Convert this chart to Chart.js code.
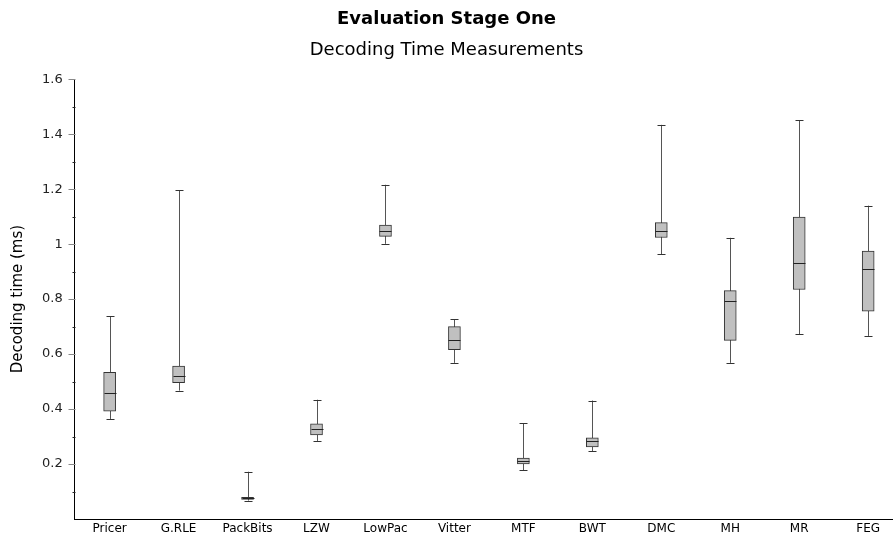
<!DOCTYPE html>
<html>
<head>
<meta charset="utf-8">
<script src="https://cdn.jsdelivr.net/npm/chart.js@4.4.0/dist/chart.umd.min.js"></script>
<style>
  html, body { margin: 0; padding: 0; background: #fff; overflow: hidden; }
  #wrap { width: 893px; height: 539px; }
</style>
</head>
<body>
<div id="wrap"><canvas id="chart"></canvas></div>
<script>
const categories = ["Pricer", "G.RLE", "PackBits", "LZW", "LowPac", "Vitter", "MTF", "BWT", "DMC", "MH", "MR", "FEG"];
const mins    = [0.364, 0.467, 0.067, 0.284, 1.001, 0.568, 0.177, 0.247, 0.964, 0.568, 0.673, 0.666];
const q1s     = [0.392, 0.496, 0.071, 0.306, 1.028, 0.616, 0.200, 0.262, 1.024, 0.650, 0.835, 0.756];
const medians = [0.459, 0.520, 0.075, 0.327, 1.049, 0.652, 0.212, 0.285, 1.046, 0.794, 0.932, 0.910];
const q3s     = [0.534, 0.556, 0.079, 0.346, 1.069, 0.700, 0.222, 0.295, 1.078, 0.831, 1.098, 0.975];
const maxs    = [0.738, 1.196, 0.172, 0.434, 1.216, 0.727, 0.348, 0.431, 1.434, 1.023, 1.451, 1.140];

const font = "'DejaVu Sans', sans-serif";

// whiskers under the boxes, caps, medians and y ticks on top
const boxParts = {
    id: "boxParts",
    beforeDatasetsDraw(chart) {
        const { ctx, scales: { x, y } } = chart;
        ctx.save();
        ctx.strokeStyle = "#555";
        ctx.lineWidth = 1;
        categories.forEach((c, i) => {
            const px = Math.round(x.getPixelForValue(i)) + 0.5;
            ctx.beginPath();
            ctx.moveTo(px, y.getPixelForValue(mins[i]));
            ctx.lineTo(px, y.getPixelForValue(maxs[i]));
            ctx.stroke();
        });
        ctx.restore();
    },
    afterDatasetsDraw(chart) {
        const { ctx, scales: { x, y } } = chart;
        ctx.save();
        ctx.lineWidth = 1;
        categories.forEach((c, i) => {
            const px = Math.round(x.getPixelForValue(i)) + 0.5;
            ctx.strokeStyle = "#333";
            for (const v of [mins[i], maxs[i]]) {
                const py = Math.round(y.getPixelForValue(v)) + 0.5;
                ctx.beginPath();
                ctx.moveTo(px - 4, py);
                ctx.lineTo(px + 4, py);
                ctx.stroke();
            }
            const my = Math.round(y.getPixelForValue(medians[i])) + 0.5;
            ctx.strokeStyle = "#222";
            ctx.beginPath();
            ctx.moveTo(px - 6, my);
            ctx.lineTo(px + 6, my);
            ctx.stroke();
        });
        // y ticks: long grey majors, short dark minors
        const left = Math.round(y.right) + 0.5;
        for (let k = 1; k <= 16; k++) {
            const v = k / 10;
            const py = Math.round(y.getPixelForValue(v)) + 0.5;
            const major = k % 2 === 0;
            ctx.strokeStyle = major ? "#888" : "#222";
            ctx.beginPath();
            ctx.moveTo(left - (major ? 7 : 3), py);
            ctx.lineTo(left, py);
            ctx.stroke();
        }
        ctx.restore();
    }
};

new Chart(document.getElementById("chart"), {
    type: "bar",
    data: {
        datasets: [
            {
                label: "Box",
                data: categories.map((c, i) => ({ x: i, y: [q1s[i], q3s[i]] })),
                backgroundColor: "#c0c0c0",
                borderColor: "#333",
                borderWidth: 1,
                borderSkipped: false,
                barThickness: 12,
                grouped: false,
            },
        ],
    },
    options: {
        responsive: true,
        maintainAspectRatio: false,
        animation: false,
        layout: { padding: { left: 0, right: 0, top: 0, bottom: 0 } },
        plugins: {
            legend: { display: false },
            tooltip: { enabled: false },
            title: {
                display: true,
                text: "Evaluation Stage One",
                color: "#000",
                font: { family: font, size: 18, weight: "bold" },
                padding: { top: 9, bottom: 6 },
            },
            subtitle: {
                display: true,
                text: "Decoding Time Measurements",
                color: "#000",
                font: { family: font, size: 18 },
                padding: { top: 3, bottom: 18 },
            },
        },
        scales: {
            x: {
                type: "linear",
                offset: false,
                min: -0.507,
                max: 11.36,
                afterBuildTicks: (scale) => {
                    scale.ticks = categories.map((c, i) => ({ value: i }));
                },
                grid: { display: false, drawTicks: false },
                border: { display: true, color: "#000", width: 1 },
                ticks: {
                    autoSkip: false,
                    maxRotation: 0,
                    padding: 4,
                    color: "#000",
                    font: { family: font, size: 12, lineHeight: 1.0 },
                    callback: (v) => categories[v] ?? "",
                },
            },
            y: {
                min: 0,
                max: 1.6,
                grid: { display: false, drawTicks: false },
                border: { display: true, color: "#000", width: 1 },
                ticks: {
                    stepSize: 0.1,
                    padding: 12,
                    color: "#222",
                    font: { family: font, size: 13 },
                    callback: function (value) {
                        const k = Math.round(value * 10);
                        if (k === 0 || k % 2 !== 0) return "";
                        return String(k / 10);
                    },
                },
                title: {
                    display: true,
                    text: "Decoding time (ms)",
                    color: "#000",
                    font: { family: font, size: 15 },
                    padding: { top: 9, bottom: 3 },
                },
            },
        },
    },
    plugins: [boxParts],
});
</script>
</body>
</html>
